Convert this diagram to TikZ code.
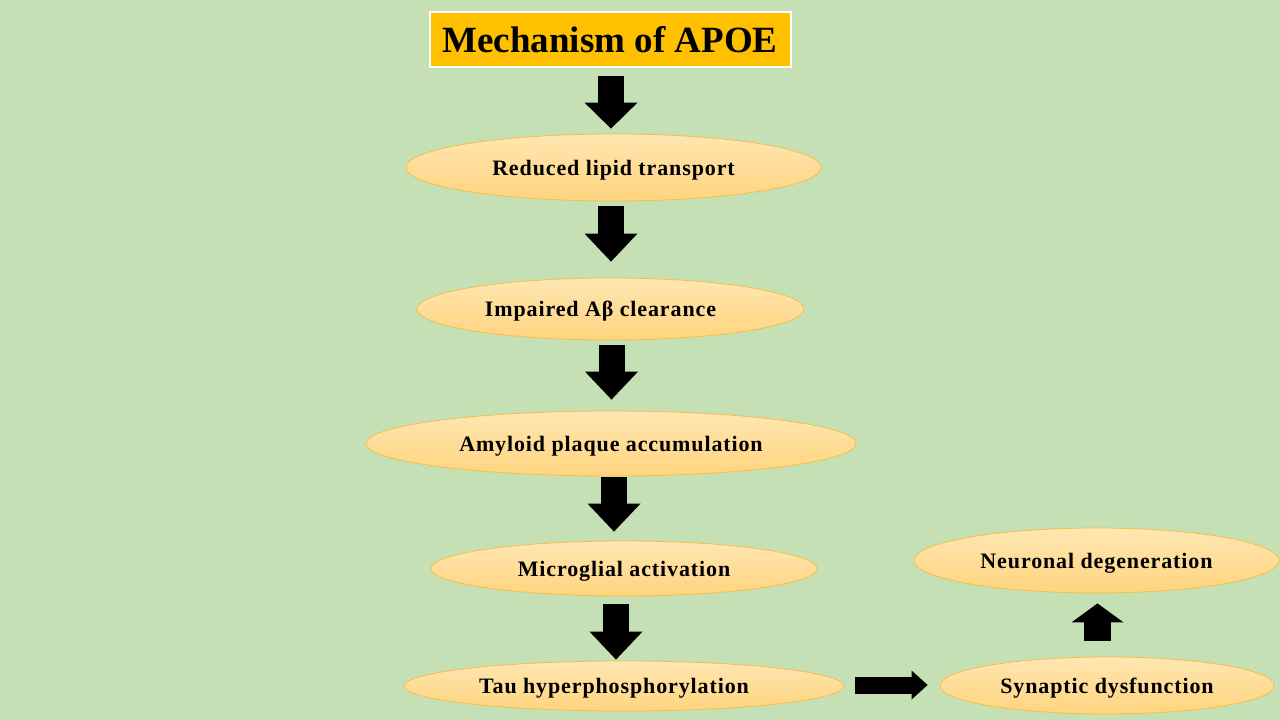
\documentclass[tikz,border=0pt]{standalone}
\usepackage{fontspec}
\setmainfont{Liberation Serif}
\newfontfamily\stagefont[LetterSpace=4]{Liberation Serif}
\usetikzlibrary{shapes.geometric,arrows.meta,backgrounds}
\definecolor{bgc}{HTML}{C5E0B4}
\definecolor{titlec}{HTML}{FFC000}
\definecolor{ellc}{HTML}{FFD47E}
\definecolor{elltop}{HTML}{FFE6B2}
\definecolor{edgec}{HTML}{F2C04A}
\tikzstyle{stage} = [
  ellipse,
  draw=edgec,
  line width=0.8pt,
  top color=elltop,
  bottom color=ellc,
  inner sep=0pt,
  text depth=0pt,
  font=\stagefont\fontsize{22}{24}\selectfont\bfseries,
]
\tikzset{
  blockarrow/.style n args={3}{
    line width=#1,
    -{Triangle[length=#2,width=#3,line width=0pt]},
  },
}

\begin{document}
\begin{tikzpicture}[x=1pt,y=-1pt]
      % Canvas
      \fill[bgc] (0,0) rectangle (1280,720);
      \useasboundingbox (0,0) rectangle (1280,720);

      % Title
      \node[draw=white, line width=2pt, fill=titlec, minimum width=361, minimum height=55,
            font=\fontsize{37}{40}\selectfont\bfseries] (title) at (610,39.5) {Mechanism of APOE};

      % Stages
      \node[stage, minimum width=415, minimum height=67] (lipid) at (613.5,167.5) {Reduced lipid transport};
      \node[stage, minimum width=387, minimum height=62] (clear) at (610.5,309) {\hspace*{-20pt}Impaired Aβ clearance};
      \node[stage, minimum width=490, minimum height=65] (plaque) at (611,443.5) {Amyloid plaque accumulation};
      \node[stage, minimum width=386, minimum height=55] (micro) at (624,568.5) {Microglial activation};
      \node[stage, minimum width=440, minimum height=50] (tau) at (624,686) {\hspace*{-20pt}Tau hyperphosphorylation};
      \node[stage, minimum width=334, minimum height=57] (synap) at (1107,685.5) {Synaptic dysfunction};
      \node[stage, minimum width=365, minimum height=65] (neuro) at (1096.5,560.5) {Neuronal degeneration};

      % Arrows
      \draw[blockarrow={26pt}{26pt}{53pt}, shorten <=8pt, shorten >=5pt]
        ([xshift=1pt]title.south) -- ([xshift=1pt]title.south |- lipid.north);
      \draw[blockarrow={26pt}{28pt}{53pt}, shorten <=5pt, shorten >=16pt]
        ([xshift=-2.5pt]lipid.south) -- ([xshift=-2.5pt]lipid.south |- clear.north);
      \draw[blockarrow={26pt}{28pt}{53pt}, shorten <=5pt, shorten >=11pt]
        ([xshift=1pt]clear.south) -- ([xshift=1pt]clear.south |- plaque.north);
      \draw[blockarrow={26pt}{28pt}{53pt}, shorten <=1pt, shorten >=9pt]
        ([xshift=3pt]plaque.south) -- ([xshift=3pt]plaque.south |- micro.north);
      \draw[blockarrow={26pt}{28pt}{53pt}, shorten <=8pt, shorten >=1pt]
        ([xshift=-8pt]micro.south) -- ([xshift=-8pt]micro.south |- tau.north);
      \draw[blockarrow={17pt}{16pt}{29pt}, shorten <=11pt, shorten >=12pt]
        ([yshift=1pt]tau.east) -- ([yshift=1pt]tau.east -| synap.west);
      \draw[blockarrow={27pt}{19pt}{52pt}, shorten <=16pt, shorten >=10pt]
        ([xshift=-9.5pt]synap.north) -- ([xshift=-9.5pt]synap.north |- neuro.south);
\end{tikzpicture}
\end{document}
